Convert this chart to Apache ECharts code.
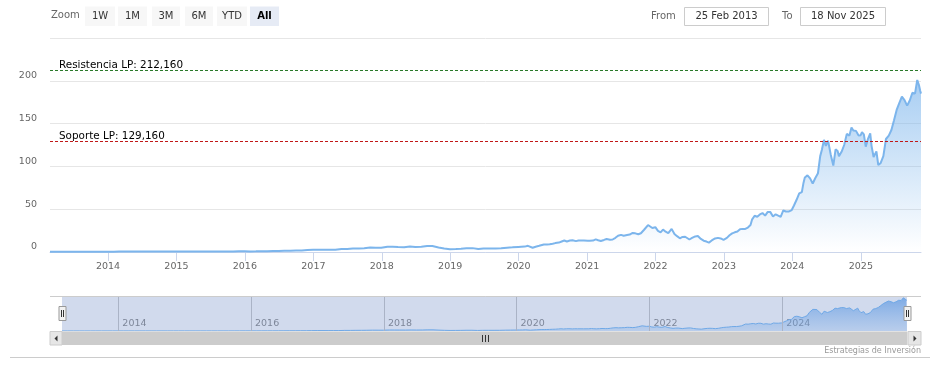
<!DOCTYPE html>
<html>
<head>
<meta charset="utf-8">
<script src="https://cdn.jsdelivr.net/npm/echarts@6/dist/echarts.min.js"></script>
<style>
html,body{margin:0;padding:0;background:#fff;}
#chart{width:942px;height:382px;}
</style>
</head>
<body>
<div id="chart"></div>
<script>
// ---- Data ----
const dates = [
'2013-02-25','2013-03-28','2013-04-30','2013-05-31','2013-06-28','2013-07-31','2013-08-30','2013-09-30','2013-10-31','2013-11-29','2013-12-31',
'2014-01-31','2014-02-28','2014-03-31','2014-04-30','2014-05-30','2014-06-30','2014-07-31','2014-08-29','2014-09-30','2014-10-31','2014-11-28','2014-12-31',
'2015-01-30','2015-02-27','2015-03-31','2015-04-30','2015-05-29','2015-06-30','2015-07-31','2015-08-31','2015-09-30','2015-10-30','2015-11-30','2015-12-31',
'2016-01-29','2016-02-29','2016-03-31','2016-04-29','2016-05-31','2016-06-30','2016-07-29','2016-08-31','2016-09-30','2016-10-31','2016-11-30','2016-12-30',
'2017-01-31','2017-02-28','2017-03-31','2017-04-28','2017-05-31','2017-06-30','2017-07-31','2017-08-31','2017-09-29','2017-10-31','2017-11-30','2017-12-29',
'2018-01-31','2018-02-28','2018-03-29','2018-04-30','2018-05-31','2018-06-29','2018-07-31','2018-08-31','2018-09-28','2018-10-31','2018-11-30','2018-12-31',
'2019-01-31','2019-02-28','2019-03-29','2019-04-30','2019-05-31','2019-06-28','2019-07-31','2019-08-30','2019-09-30','2019-10-31','2019-11-29','2019-12-31',
'2020-01-15','2020-02-03','2020-02-20','2020-03-16','2020-04-01','2020-04-20','2020-05-15','2020-06-01','2020-06-15','2020-07-01','2020-07-15','2020-08-03','2020-08-18','2020-09-01','2020-09-15','2020-10-01','2020-10-15','2020-11-02','2020-11-16','2020-12-01','2020-12-15',
'2021-01-04','2021-01-15','2021-02-01','2021-02-16','2021-03-01','2021-03-15','2021-04-01','2021-04-15','2021-05-03','2021-05-17','2021-06-01','2021-06-15','2021-07-01','2021-07-15','2021-08-02','2021-08-16','2021-09-01','2021-09-15','2021-10-01','2021-10-15','2021-11-01','2021-11-22','2021-12-01','2021-12-15','2021-12-31',
'2022-01-14','2022-01-28','2022-02-10','2022-02-24','2022-03-10','2022-03-28','2022-04-12','2022-04-26','2022-05-11','2022-05-25','2022-06-08','2022-06-16','2022-07-01','2022-07-15','2022-08-01','2022-08-15','2022-08-31','2022-09-15','2022-09-30','2022-10-13','2022-10-28','2022-11-15','2022-11-30','2022-12-15','2022-12-30',
'2023-01-06','2023-01-17','2023-01-31','2023-02-14','2023-02-28','2023-03-14','2023-03-28','2023-04-11','2023-04-25','2023-05-09','2023-05-23','2023-05-31','2023-06-14','2023-06-28','2023-07-12','2023-07-26','2023-08-09','2023-08-23','2023-09-06','2023-09-20','2023-10-04','2023-10-18','2023-10-31','2023-11-14','2023-11-28','2023-12-12','2023-12-29',
'2024-01-10','2024-01-24','2024-02-07','2024-02-21','2024-03-01','2024-03-08','2024-03-22','2024-04-05','2024-04-19','2024-05-03','2024-05-17','2024-05-29','2024-06-07','2024-06-18','2024-06-28','2024-07-10','2024-07-24','2024-08-07','2024-08-19','2024-08-30','2024-09-06','2024-09-20','2024-10-04','2024-10-18','2024-11-01','2024-11-12','2024-11-22','2024-12-06','2024-12-20','2024-12-31',
'2025-01-07','2025-01-17','2025-01-27','2025-02-07','2025-02-20','2025-02-27','2025-03-10','2025-03-25','2025-04-04','2025-04-08','2025-04-17','2025-05-01','2025-05-15','2025-05-30','2025-06-13','2025-06-27','2025-07-11','2025-07-25','2025-08-08','2025-08-22','2025-09-05','2025-09-19','2025-10-03','2025-10-17','2025-10-29','2025-11-07','2025-11-14','2025-11-18'
];
const prices = [
0.32,0.32,0.34,0.36,0.35,0.35,0.38,0.39,0.38,0.40,0.40,
0.39,0.45,0.45,0.46,0.48,0.46,0.44,0.49,0.46,0.49,0.52,0.50,
0.48,0.55,0.52,0.55,0.55,0.50,0.50,0.56,0.62,0.71,0.80,0.82,
0.73,0.78,0.89,0.89,1.17,1.17,1.43,1.53,1.71,1.78,2.31,2.67,
2.73,2.52,2.72,2.60,3.60,3.61,4.06,4.23,4.47,5.17,5.01,4.84,
6.14,6.05,5.79,5.62,6.31,5.92,6.12,7.02,7.03,5.27,4.08,3.34,
3.59,3.86,4.49,4.52,3.39,4.11,4.22,4.19,4.35,5.03,5.42,5.88,
6.1,6.3,7.2,5.0,6.2,7.3,8.8,8.8,9.0,9.6,10.4,11.0,12.3,13.5,12.3,13.4,13.8,12.7,13.5,13.3,13.3,
13.1,13.1,13.3,14.8,13.7,12.9,14.1,15.2,14.4,14.6,16.6,18.9,20.0,19.0,19.8,20.4,22.3,21.8,20.7,21.9,26.0,31.5,30.5,28.0,29.0,
24.6,23.0,26.2,23.7,22.0,27.0,21.0,18.5,16.0,17.6,17.8,15.6,14.6,16.4,18.2,18.6,15.3,13.2,12.2,11.0,13.5,15.8,16.5,15.8,14.2,
13.5,16.5,19.5,21.8,23.0,24.0,26.5,27.0,27.0,28.6,31.5,37.8,42.3,41.2,43.9,45.5,42.5,46.8,46.6,41.5,44.0,42.4,41.0,48.5,47.3,47.2,49.0,
54.3,61.0,68.5,70.0,81.0,87.0,89.5,86.0,80.0,86.5,92.0,112.0,119.5,131.0,124.0,130.0,114.0,101.0,120.0,118.0,112.0,117.0,125.0,138.0,136.0,145.5,142.0,141.5,136.0,136.5,
140.0,137.5,123.0,131.5,138.5,124.0,111.0,117.5,101.5,102.0,104.0,112.0,132.0,136.0,142.5,154.0,166.0,174.0,181.5,177.5,171.0,177.0,186.0,185.0,201.0,195.0,188.0,185.0
];
const seriesName = 'Precio';
const levelNames = ['Resistencia LP', 'Soporte LP'];
const levelValues = [212.16, 129.16];
const levelLabels = ['212,160', '129,160'];
const levelColors = ['#2a7a2a', '#c01818'];
const yTicks = [0, 50, 100, 150, 200, 250];
const navYears = ['2014', '2016', '2018', '2020', '2022', '2024'];
const zoomButtons = ['1W', '1M', '3M', '6M', 'YTD', 'All'];
const fromText = '25 Feb 2013';
const toText = '18 Nov 2025';
const creditText = 'Estrategias de Inversión';
const rangeMin = '2013-02-25';
const rangeMax = '2025-11-18';

// ---- Build ----
const data = dates.map((d, i) => [d, prices[i]]);
const FONT = 'DejaVu Sans';
const chart = echarts.init(document.getElementById('chart'), null, {renderer: 'canvas'});

const btnX = [85, 118, 152, 185, 217, 250];
const btnW = [30, 29, 28, 28, 30, 29];
const graphics = [];
graphics.push({type: 'text', left: 51, top: 10, style: {text: 'Zoom', font: '10px "' + FONT + '"', fill: '#666'}});
zoomButtons.forEach((b, i) => {
  const sel = b === 'All';
  graphics.push({type: 'rect', shape: {x: btnX[i], y: 6.5, width: btnW[i], height: 19.5},
    style: {fill: sel ? '#e6ebf5' : '#f7f7f7'}, z: 10});
  graphics.push({type: 'text', x: btnX[i] + btnW[i] / 2, y: 16.5, z: 11,
    style: {text: b, font: (sel ? 'bold ' : '') + '10px "' + FONT + '"', fill: sel ? '#000' : '#333',
      textAlign: 'center', textVerticalAlign: 'middle'}});
});
graphics.push({type: 'text', x: 651, y: 16.5, style: {text: 'From', font: '10px "' + FONT + '"', fill: '#666', textVerticalAlign: 'middle'}});
graphics.push({type: 'rect', shape: {x: 684.5, y: 7.5, width: 84, height: 18}, style: {fill: '#fff', stroke: '#cccccc', lineWidth: 1}});
graphics.push({type: 'text', x: 726.5, y: 16.5, style: {text: fromText, font: '10px "' + FONT + '"', fill: '#333', textAlign: 'center', textVerticalAlign: 'middle'}});
graphics.push({type: 'text', x: 782, y: 16.5, style: {text: 'To', font: '10px "' + FONT + '"', fill: '#666', textVerticalAlign: 'middle'}});
graphics.push({type: 'rect', shape: {x: 800.5, y: 7.5, width: 85, height: 18}, style: {fill: '#fff', stroke: '#cccccc', lineWidth: 1}});
graphics.push({type: 'text', x: 843, y: 16.5, style: {text: toText, font: '10px "' + FONT + '"', fill: '#333', textAlign: 'center', textVerticalAlign: 'middle'}});

// navigator outline top
graphics.push({type: 'line', shape: {x1: 50, y1: 296.5, x2: 921, y2: 296.5}, style: {stroke: '#cccccc', lineWidth: 1}, z: 20});
// scrollbar
graphics.push({type: 'rect', shape: {x: 50, y: 331.5, width: 871, height: 13.5}, style: {fill: '#f2f2f2'}, z: 20});
graphics.push({type: 'rect', shape: {x: 62, y: 331.5, width: 845, height: 13.5}, style: {fill: '#cccccc'}, z: 21});
graphics.push({type: 'rect', shape: {x: 50, y: 331.5, width: 12, height: 13.5}, style: {fill: '#e6e6e6', stroke: '#cccccc', lineWidth: 1}, z: 21});
graphics.push({type: 'rect', shape: {x: 908, y: 331.5, width: 13, height: 13.5}, style: {fill: '#e6e6e6', stroke: '#cccccc', lineWidth: 1}, z: 21});
graphics.push({type: 'polygon', shape: {points: [[57.5, 335.5], [57.5, 341.5], [54.5, 338.5]]}, style: {fill: '#333'}, z: 22});
graphics.push({type: 'polygon', shape: {points: [[913.5, 335.5], [913.5, 341.5], [916.5, 338.5]]}, style: {fill: '#333'}, z: 22});
[482.5, 485.5, 488.5].forEach(x => {
  graphics.push({type: 'line', shape: {x1: x, y1: 335, x2: x, y2: 342}, style: {stroke: '#333', lineWidth: 1}, z: 22});
});
// navigator handles
[62.5, 907.5].forEach(cx => {
  graphics.push({type: 'rect', shape: {x: cx - 3.5, y: 306.5, width: 7, height: 14}, style: {fill: '#f2f2f2', stroke: '#999999', lineWidth: 1}, z: 23});
  graphics.push({type: 'line', shape: {x1: cx - 1, y1: 310, x2: cx - 1, y2: 317}, style: {stroke: '#333', lineWidth: 1}, z: 24});
  graphics.push({type: 'line', shape: {x1: cx + 1, y1: 310, x2: cx + 1, y2: 317}, style: {stroke: '#333', lineWidth: 1}, z: 24});
});
// bottom separator and credit
graphics.push({type: 'line', shape: {x1: 10, y1: 357.5, x2: 930, y2: 357.5}, style: {stroke: '#cccccc', lineWidth: 1}});
graphics.push({type: 'text', x: 921, y: 350.5, style: {text: creditText, font: '8px "' + FONT + '"', fill: '#999', textAlign: 'right', textVerticalAlign: 'middle'}});

const areaGrad = new echarts.graphic.LinearGradient(0, 0, 0, 1, [
  {offset: 0, color: 'rgba(124,181,236,0.95)'},
  {offset: 1, color: 'rgba(124,181,236,0)'}
]);
const navGrad = new echarts.graphic.LinearGradient(0, 0, 0, 1, [
  {offset: 0, color: 'rgba(90,150,225,1)'},
  {offset: 1, color: 'rgba(110,165,230,0.35)'}
]);

// one helper series per level line, each with its own markLine style
const levelSeries = levelValues.map((v, i) => ({
  name: levelNames[i], type: 'line', xAxisIndex: 0, yAxisIndex: 0, data: [],
  symbol: 'none', z: 5, silent: true,
  markLine: {
    silent: true, symbol: 'none',
    lineStyle: {color: levelColors[i], type: [3, 2], width: 1, opacity: 1},
    label: {show: true, position: 'insideStartTop', formatter: levelNames[i] + ': ' + levelLabels[i],
      color: '#000', fontSize: 10.4, fontFamily: FONT, distance: [9, 0]},
    data: [{yAxis: v}]
  }
}));

const option = {
  animation: false,
  backgroundColor: '#ffffff',
  textStyle: {fontFamily: FONT},
  grid: [
    {left: 50, right: 21, top: 38, bottom: 130},
    {left: 62, right: 35, top: 296, height: 35}
  ],
  xAxis: [
    {
      type: 'time', gridIndex: 0, min: rangeMin, max: rangeMax, splitNumber: 12,
      axisLine: {lineStyle: {color: '#ccd6eb'}},
      axisTick: {show: true, length: 9, lineStyle: {color: '#ccd6eb'}},
      splitLine: {show: false},
      axisLabel: {color: '#666', fontSize: 9.5, fontFamily: FONT, margin: 10, hideOverlap: false,
        showMinLabel: false, showMaxLabel: false,
        formatter: v => String(new Date(v).getFullYear())}
    },
    {
      type: 'time', gridIndex: 1, min: rangeMin, max: rangeMax, splitNumber: 12,
      axisLine: {show: false}, axisTick: {show: false},
      splitLine: {show: false},
      axisLabel: {inside: true, color: '#888', fontSize: 9.5, fontFamily: FONT, align: 'left',
        verticalAlign: 'bottom', margin: 2, padding: [0, 0, 0, 4], hideOverlap: false,
        showMinLabel: false, showMaxLabel: false,
        formatter: v => { const y = new Date(v).getFullYear(); return y % 2 === 0 ? String(y) : ''; }}
    }
  ],
  yAxis: [
    {
      type: 'value', gridIndex: 0, min: yTicks[0], max: yTicks[yTicks.length - 1], interval: 50,
      axisLine: {show: false}, axisTick: {show: false},
      splitLine: {lineStyle: {color: '#e6e6e6'}},
      axisLabel: {color: '#666', fontSize: 9.5, fontFamily: FONT, margin: 13, verticalAlign: 'bottom',
        showMaxLabel: false}
    },
    {
      type: 'value', gridIndex: 1, min: 0, max: 212, show: false
    }
  ],
  series: [
    {
      name: seriesName, type: 'line', xAxisIndex: 0, yAxisIndex: 0, data: data,
      showSymbol: false, symbol: 'none',
      lineStyle: {color: '#7cb5ec', width: 2},
      areaStyle: {color: areaGrad, origin: 'start'},
      z: 3
    },
    ...levelSeries,
    {
      name: seriesName + ' nav', type: 'line', xAxisIndex: 1, yAxisIndex: 1, data: data,
      showSymbol: false, symbol: 'none',
      lineStyle: {color: '#6fa8e6', width: 1},
      areaStyle: {color: navGrad, origin: 'start'},
      z: 3,
      markLine: {
        silent: true, symbol: 'none', label: {show: false},
        lineStyle: {color: '#aab3c6', type: 'solid', width: 1},
        data: navYears.map(y => ({xAxis: y + '-01-01'}))
      },
      markArea: {
        silent: true,
        itemStyle: {color: 'rgba(102,133,194,0.3)'},
        data: [[{xAxis: rangeMin}, {xAxis: rangeMax}]]
      }
    }
  ],
  graphic: graphics
};
chart.setOption(option);
</script>
</body>
</html>
